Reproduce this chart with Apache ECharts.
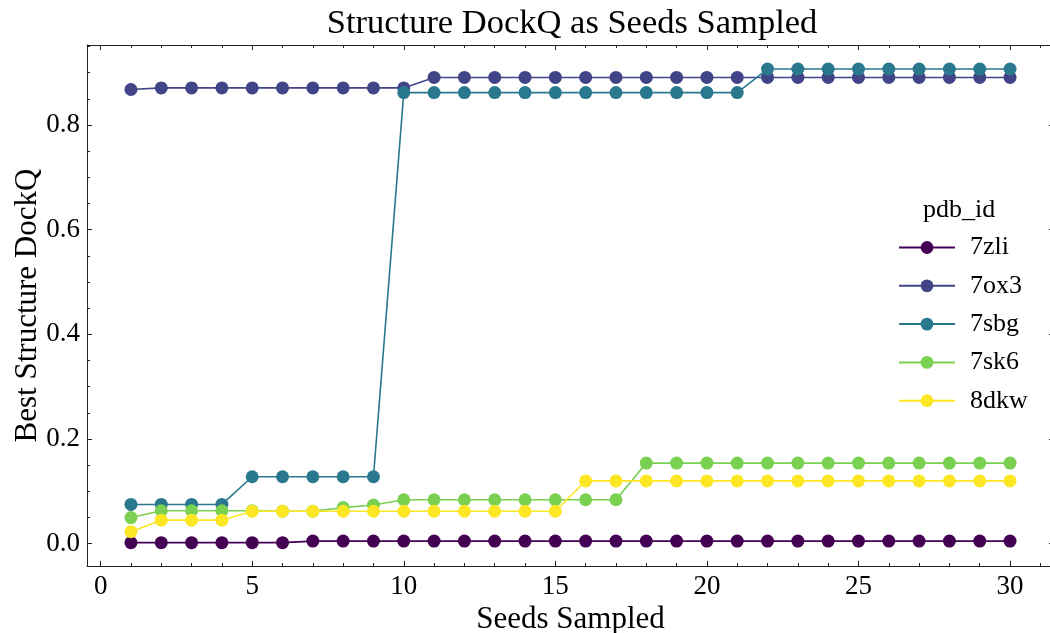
<!DOCTYPE html>
<html>
<head>
<meta charset="utf-8">
<script src="https://cdn.jsdelivr.net/npm/echarts@6/dist/echarts.min.js"></script>
<style>html,body{margin:0;padding:0;background:#fff;}#c{width:1050px;height:633px;}</style>
</head>
<body>
<div id="c"></div>
<script>
const seeds = [1,2,3,4,5,6,7,8,9,10,11,12,13,14,15,16,17,18,19,20,21,22,23,24,25,26,27,28,29,30];
const names = ['7zli','7ox3','7sbg','7sk6','8dkw'];
const v7zli = [0.002,0.002,0.002,0.002,0.002,0.002,0.005,0.005,0.005,0.005,0.005,0.005,0.005,0.005,0.005,0.005,0.005,0.005,0.005,0.005,0.005,0.005,0.005,0.005,0.005,0.005,0.005,0.005,0.005,0.005];
const v7ox3 = [0.868,0.871,0.871,0.871,0.871,0.871,0.871,0.871,0.871,0.871,0.891,0.891,0.891,0.891,0.891,0.891,0.891,0.891,0.891,0.891,0.891,0.891,0.891,0.891,0.891,0.891,0.891,0.891,0.891,0.891];
const v7sbg = [0.075,0.075,0.075,0.075,0.128,0.128,0.128,0.128,0.128,0.862,0.862,0.862,0.862,0.862,0.862,0.862,0.862,0.862,0.862,0.862,0.862,0.907,0.907,0.907,0.907,0.907,0.907,0.907,0.907,0.907];
const v7sk6 = [0.050,0.063,0.063,0.063,0.063,0.062,0.062,0.069,0.074,0.084,0.084,0.084,0.084,0.084,0.084,0.084,0.084,0.154,0.154,0.154,0.154,0.154,0.154,0.154,0.154,0.154,0.154,0.154,0.154,0.154];
const v8dkw = [0.023,0.045,0.045,0.045,0.062,0.062,0.062,0.062,0.062,0.062,0.062,0.062,0.062,0.062,0.062,0.120,0.120,0.120,0.120,0.120,0.120,0.120,0.120,0.120,0.120,0.120,0.120,0.120,0.120,0.120];
const values = [v7zli, v7ox3, v7sbg, v7sk6, v8dkw];
const colors = ['#440154','#414487','#2a788e','#7ad151','#fde725'];
const xMajor = [0,5,10,15,20,25,30];
const xMinor = [0,1,2,3,4,5,6,7,8,9,10,11,12,13,14,15,16,17,18,19,20,21,22,23,24,25,26,27,28,29,30,31];
const yMajor = [0,0.2,0.4,0.6,0.8];
const yMinor = [0,0.05,0.1,0.15,0.2,0.25,0.3,0.35,0.4,0.45,0.5,0.55,0.6,0.65,0.7,0.75,0.8,0.85,0.9,0.95];

const FONT = '"Liberation Serif", "DejaVu Serif", serif';
const X_MIN = -0.45, X_MAX = 31.45, Y_MIN = -0.0426, Y_MAX = 0.953;
const AX = '#222';

function xAx(pos, ticks, len, showLine, showLabel, extra) {
  return Object.assign({
    type: 'value', position: pos, min: X_MIN, max: X_MAX,
    axisLine: { show: showLine, onZero: false, lineStyle: { color: AX, width: 1 } },
    axisTick: { show: true, inside: true, length: len, customValues: ticks, lineStyle: { color: AX, width: 1 } },
    axisLabel: { show: showLabel, customValues: ticks, fontFamily: FONT, fontSize: 27, color: '#000', margin: 7 },
    splitLine: { show: false }
  }, extra || {});
}
function yAx(pos, ticks, len, showLine, showLabel, extra) {
  return Object.assign({
    type: 'value', position: pos, min: Y_MIN, max: Y_MAX,
    axisLine: { show: showLine, onZero: false, lineStyle: { color: AX, width: 1 } },
    axisTick: { show: true, inside: true, length: len, customValues: ticks, lineStyle: { color: AX, width: 1 } },
    axisLabel: { show: showLabel, customValues: ticks, fontFamily: FONT, fontSize: 27, color: '#000', margin: 7,
                 formatter: v => v.toFixed(1) },
    splitLine: { show: false }
  }, extra || {});
}

const series = names.map((n, i) => ({
  name: n, type: 'line', xAxisIndex: 0, yAxisIndex: 0,
  data: seeds.map((s, j) => [s, values[i][j]]),
  symbol: 'circle', symbolSize: 13, showSymbol: true,
  lineStyle: { width: 1.6, color: colors[i] },
  itemStyle: { color: colors[i] },
  emphasis: { disabled: true },
  animation: false, z: 2 + i
}));

const chart = echarts.init(document.getElementById('c'), null, { renderer: 'canvas' });
chart.setOption({
  animation: false,
  color: colors,
  title: {
    text: 'Structure DockQ as Seeds Sampled', left: 567, top: 1, textAlign: 'center',
    textStyle: { fontFamily: FONT, fontSize: 34.5, fontWeight: 'normal', color: '#000' }
  },
  grid: { left: 87, right: -4, top: 45, bottom: 67, containLabel: false, outerBoundsMode: 'none' },
  xAxis: [
    xAx('bottom', xMajor, 5, true, true, { name: 'Seeds Sampled', nameLocation: 'middle', nameGap: 38,
        nameMoveOverlap: false,
        nameTextStyle: { fontFamily: FONT, fontSize: 31, color: '#000' } }),
    xAx('bottom', xMinor, 3, false, false),
    xAx('top', xMajor, 5, true, false),
    xAx('top', xMinor, 3, false, false)
  ],
  yAxis: [
    yAx('left', yMajor, 5, true, true, { name: 'Best Structure DockQ', nameLocation: 'middle', nameGap: 44,
        nameRotate: 90, nameMoveOverlap: false,
        nameTextStyle: { fontFamily: FONT, fontSize: 31, color: '#000' } }),
    yAx('left', yMinor, 3, false, false),
    yAx('right', yMajor, 5, true, false),
    yAx('right', yMinor, 3, false, false)
  ],
  legend: {
    orient: 'vertical', left: 893, top: 229.5, itemWidth: 56, itemHeight: 16, itemGap: 12.3,
    data: names,
    textStyle: { fontFamily: FONT, fontSize: 26, color: '#000', lineHeight: 26, padding: [0, 0, 0, 10] }
  },
  graphic: [{
    type: 'text', left: 923, top: 197,
    style: { text: 'pdb_id', fontFamily: FONT, fontSize: 26, fill: '#000' }
  }],
  series: series
});
</script>
</body>
</html>
